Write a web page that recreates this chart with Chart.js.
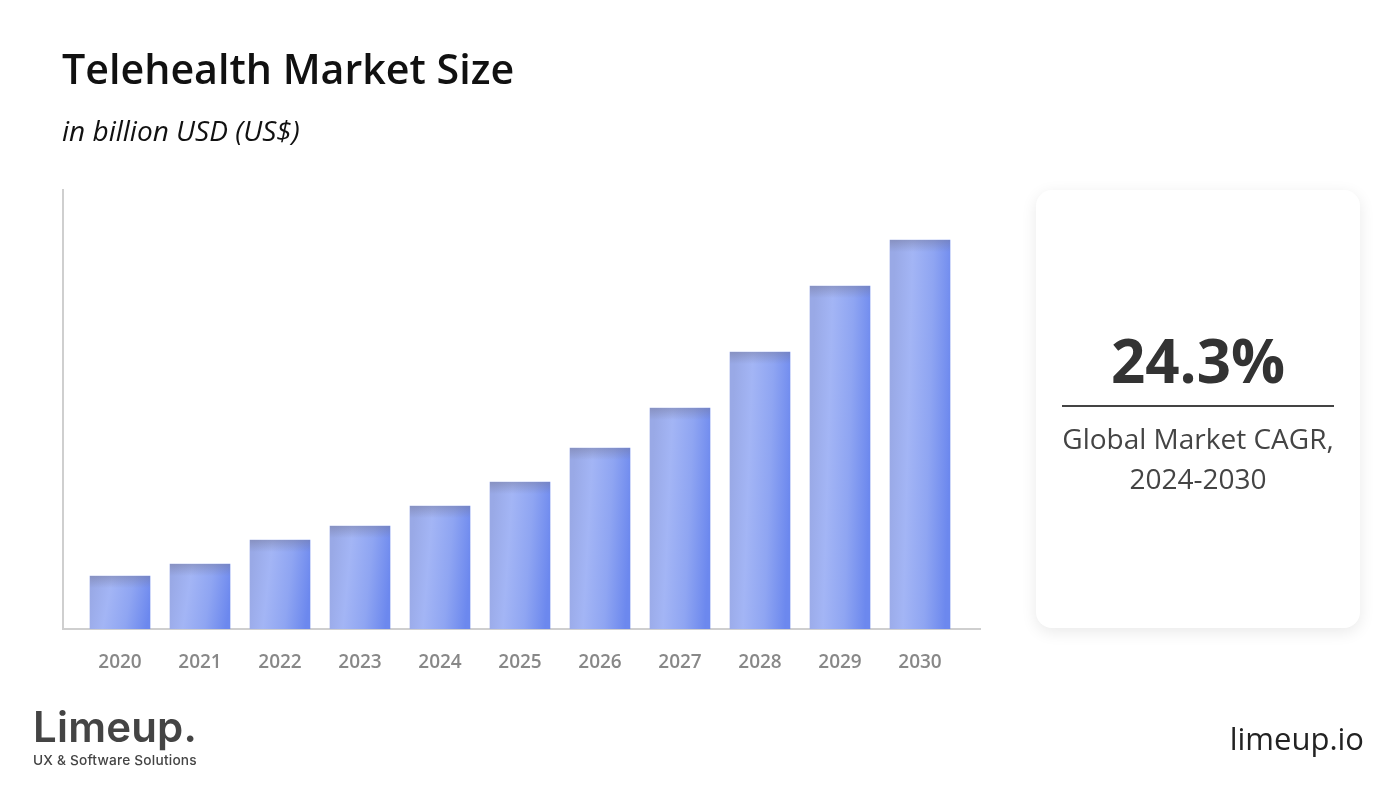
<!DOCTYPE html>
<html>
<head>
<meta charset="utf-8">
<title>Telehealth Market Size</title>
<script src="https://cdn.jsdelivr.net/npm/chart.js@4"></script>
<style>
  body { margin: 0; width: 1400px; height: 788px; background: #fff; overflow: hidden; position: relative; font-family: "Open Sans", sans-serif; }
  canvas { position: absolute; left: 0; top: 0; }
  .abs { position: absolute; white-space: nowrap; }
  #title { left: 62px; top: 41px; font-size: 41.2px; font-weight: 600; line-height: 54px; color: #111; }
  #subtitle { left: 62px; top: 111px; font-size: 28px; font-style: italic; line-height: 38px; color: #111; }
  #card { left: 1036px; top: 190px; width: 324px; height: 438px; background: #fff; border-radius: 16px; box-shadow: 0 4px 16px rgba(0,0,0,0.09); }
  #cagr { left: 0; width: 100%; top: 130px; text-align: center; font-size: 60px; font-weight: 700; line-height: 80px; color: #333; }
  #rule { left: 26px; width: 272px; top: 215px; height: 2px; background: #444; }
  #cagrText { left: 0; width: 100%; top: 228px; text-align: center; font-size: 28px; line-height: 40px; color: #444; }
  #logo { left: 33px; top: 698px; font-family: Inter, sans-serif; font-size: 42px; font-weight: 600; line-height: 58px; letter-spacing: 0.2px; color: #444; }
  #tagline { left: 33px; top: 752px; font-family: Inter, sans-serif; font-size: 13.7px; font-weight: 500; line-height: 17px; letter-spacing: 0.2px; color: #444; }
  #site { right: 36px; top: 716px; font-size: 31px; line-height: 44px; color: #222; }
</style>
</head>
<body>
<canvas id="marketChart" width="1400" height="788"></canvas>
<div class="abs" id="title">Telehealth Market Size</div>
<div class="abs" id="subtitle">in billion USD (US$)</div>
<div class="abs" id="card">
  <div class="abs" id="cagr">24.3%</div>
  <div class="abs" id="rule"></div>
  <div class="abs" id="cagrText">Global Market CAGR,<br>2024-2030</div>
</div>
<div class="abs" id="logo">Limeup.</div>
<div class="abs" id="tagline">UX &amp; Software Solutions</div>
<div class="abs" id="site">limeup.io</div>

<script>
// Values, the reference has no value axis
const years = [2020, 2021, 2022, 2023, 2024, 2025, 2026, 2027, 2028, 2029, 2030];
const marketSize = [13.25, 16.25, 22.25, 25.75, 30.75, 36.75, 45.25, 55.25, 69.25, 85.75, 97.25];

// Shine across each bar, tilted a little so the lower right is darkest
function barGradient(context) {
  if (!context.raw || !context.chart.chartArea) return '#8ea2f0';
  const half = 30;
  const { x: xScale, y: yScale } = context.chart.scales;
  const x = xScale.getPixelForValue(context.raw.x);
  const top = yScale.getPixelForValue(context.raw.y);
  const bottom = yScale.getPixelForValue(0);
  const mid = (top + bottom) / 2;
  // the taller the bar, the smaller the tilt, same colour shift top to bottom
  const tilt = 300 / (bottom - top);
  const g = context.chart.ctx.createLinearGradient(x - half, mid - tilt, x + half, mid + tilt);
  g.addColorStop(0, '#99a9e6');
  g.addColorStop(0.3, '#a3b5f5');
  g.addColorStop(0.65, '#8fa5f2');
  g.addColorStop(1, '#6c88ee');
  return g;
}

// Soft grey band along the top of each bar
const topShade = {
  id: 'topShade',
  afterDatasetsDraw(chart) {
    const { ctx } = chart;
    chart.getDatasetMeta(0).data.forEach((bar) => {
      const g = ctx.createLinearGradient(0, bar.y, 0, bar.y + 12);
      g.addColorStop(0, 'rgba(115,118,150,0.45)');
      g.addColorStop(1, 'rgba(115,118,150,0)');
      ctx.fillStyle = g;
      ctx.fillRect(bar.x - bar.width / 2, bar.y, bar.width, 12);
    });
  },
};

new Chart(document.getElementById('marketChart'), {
  type: 'bar',
  data: {
    datasets: [{
      data: years.map((year, i) => ({ x: year, y: marketSize[i] })),
      backgroundColor: barGradient,
      barThickness: 60,
      borderWidth: 0,
    }],
  },
  plugins: [topShade],
  options: {
    responsive: false,
    animation: false,
    layout: { padding: { top: 190, right: 420 } },
    plugins: { legend: { display: false }, tooltip: { enabled: false } },
    scales: {
      x: {
        type: 'linear',
        offset: false,
        min: 2019.2875,
        max: 2030.75,
        grid: { display: false, drawTicks: false },
        border: { color: '#cfcfcf', width: 2 },
        ticks: {
          stepSize: 1,
          includeBounds: false,
          autoSkip: false,
          maxRotation: 0,
          padding: 22,
          color: '#888888',
          font: { family: '"Open Sans"', size: 19, weight: '600' },
          callback: (v) => String(v),
        },
        afterFit(scale) { scale.height = 159; },
      },
      y: {
        min: 0,
        max: 109.75,
        grid: { display: false, drawTicks: false },
        border: { color: '#cfcfcf', width: 2 },
        ticks: { display: false },
        afterFit(scale) { scale.width = 63; },
      },
    },
  },
});
</script>
</body>
</html>
